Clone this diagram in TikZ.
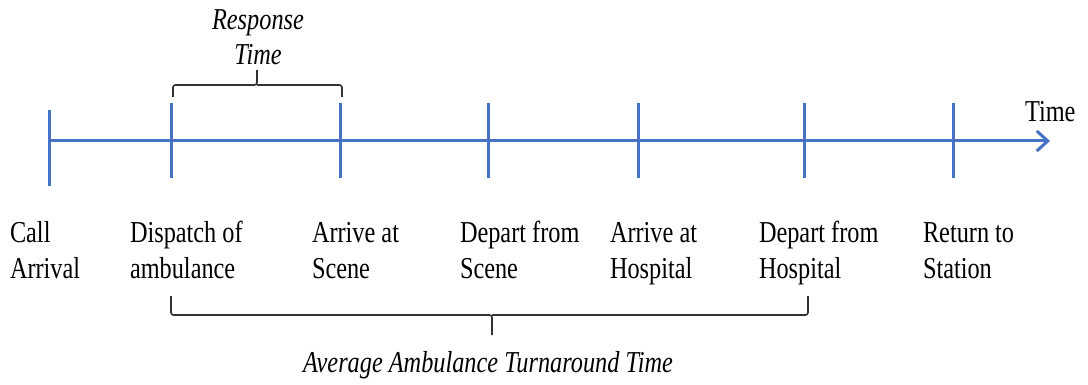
\documentclass[tikz,border=0pt]{standalone}
\usepackage{graphicx}
\usepackage{fontspec}
\setmainfont{Liberation Serif}
\usetikzlibrary{arrows.meta}

\definecolor{axisblue}{RGB}{68,114,196}
\definecolor{bracegray}{RGB}{50,50,50}

% text is set slightly tall and narrow
\newcommand{\tall}[1]{\scalebox{1}[1.25]{#1}}
\newcommand{\twoline}[2]{\tall{\begin{tabular}[t]{@{}l@{}}#1\\#2\end{tabular}}}
\newcommand{\twolinec}[2]{\tall{\begin{tabular}[t]{@{}c@{}}#1\\#2\end{tabular}}}

\begin{document}
\begin{tikzpicture}[x=1pt,y=-1pt,
  every node/.style={inner sep=0pt, outer sep=0pt, font=\fontsize{24.3}{28.8}\selectfont},
  eventlabel/.style={anchor=base west},
  spanlabel/.style={anchor=base, font=\fontsize{24.3}{28}\selectfont\itshape},
  axisline/.style={draw=axisblue, line width=3pt},
  tickline/.style={draw=axisblue, line width=3pt},
  bracket/.style={draw=bracegray, line width=1.6pt, rounded corners=2.5pt}]

  \path[use as bounding box] (0,0) rectangle (1088,385);

  % time axis
  \coordinate (axstart) at (49,141);
  \coordinate (axend) at (1050,141);
  \draw[axisline, -{Straight Barb[length=11pt,width=20pt]}] (axstart) -- (axend);
  \node[anchor=base west] (timelbl) at (1025,122) {\tall{Time}};

  % event ticks
  \coordinate (t1top) at (49,110);  \coordinate (t1bot) at (49,186);
  \coordinate (t2top) at (171,103); \coordinate (t2bot) at (171,178);
  \coordinate (t3top) at (340,103); \coordinate (t3bot) at (340,178);
  \coordinate (t4top) at (488,103); \coordinate (t4bot) at (488,178);
  \coordinate (t5top) at (638,103); \coordinate (t5bot) at (638,178);
  \coordinate (t6top) at (804,103); \coordinate (t6bot) at (804,178);
  \coordinate (t7top) at (953,103); \coordinate (t7bot) at (953,178);
  \foreach \i in {1,...,7} {\draw[tickline] (t\i top) -- (t\i bot);}

  % event labels
  \node[eventlabel] (ev1) at (10,243)  {\twoline{Call}{Arrival}};
  \node[eventlabel] (ev2) at (130,243) {\twoline{Dispatch of}{ambulance}};
  \node[eventlabel] (ev3) at (312,243) {\twoline{Arrive at}{Scene}};
  \node[eventlabel] (ev4) at (460,243) {\twoline{Depart from}{Scene}};
  \node[eventlabel] (ev5) at (610,243) {\twoline{Arrive at}{Hospital}};
  \node[eventlabel] (ev6) at (759,243) {\twoline{Depart from}{Hospital}};
  \node[eventlabel] (ev7) at (923,243) {\twoline{Return to}{Station}};

  % response time bracket
  \draw[bracket] (173,97) -- (173,85) -- (257,85) -- (257,70);
  \draw[bracket] (342,97) -- (342,85) -- (257,85);
  \node[spanlabel] (resp) at (258,30) {\twolinec{Response}{Time}};

  % turnaround time bracket
  \draw[bracket] (171,296) -- (171,315) -- (492,315) -- (492,335);
  \draw[bracket] (808,296) -- (808,315) -- (492,315);
  \node[spanlabel] (turn) at (488,372) {\tall{Average Ambulance Turnaround Time}};
\end{tikzpicture}
\end{document}
